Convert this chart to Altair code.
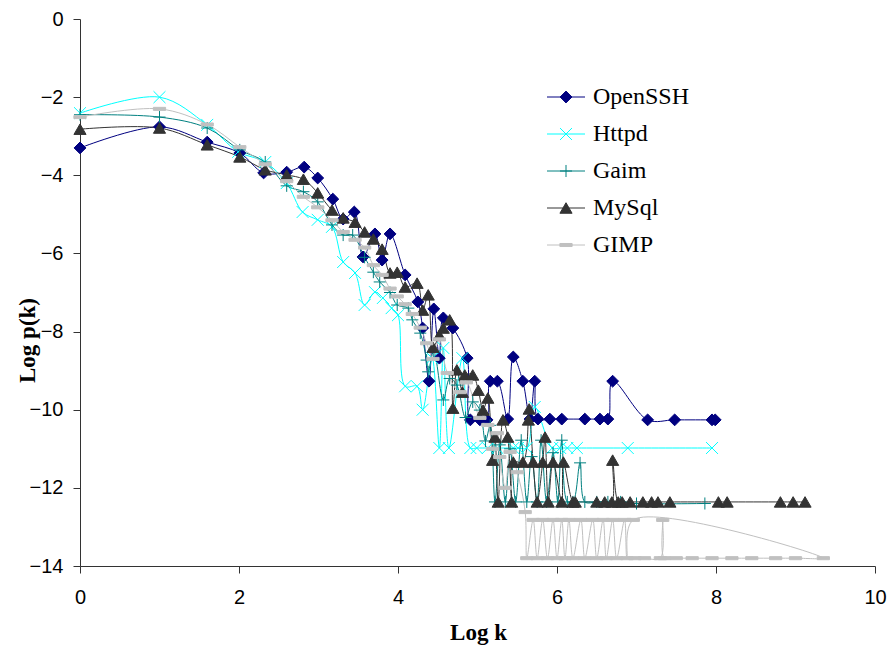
import altair as alt
import pandas as pd

series_names = ["OpenSSH", "Httpd", "Gaim", "MySql", "GIMP"]
series_colors = ["#000080", "#00FFFF", "#008080", "#333333", "#C0C0C0"]
series_shapes = [
    "diamond",
    "M-1,-1L1,1M-1,1L1,-1",
    "M-1,0L1,0M0,-1L0,1",
    "triangle-up",
    "M-1,-0.25L1,-0.25L1,0.25L-1,0.25Z",
]
series_sizes = [140, 150, 110, 130, 40]

openssh_x = [0, 1.0, 1.6, 2.01, 2.31, 2.6, 2.82, 2.99, 3.18, 3.31, 3.45, 3.56, 3.71, 3.80, 3.90,
             4.09, 4.25, 4.31, 4.39, 4.45, 4.52, 4.57, 4.69, 4.87, 4.91, 5.03, 5.12, 5.16, 5.25,
             5.38, 5.45, 5.57, 5.66, 5.72, 5.76, 5.91, 6.06, 6.35, 6.54, 6.64, 6.70, 7.14, 7.48, 7.95, 7.99]
openssh_y = [-3.30, -2.76, -3.15, -3.43, -3.94, -3.92, -3.79, -4.07, -4.61, -5.12, -4.94, -6.09, -5.50, -6.17, -5.50,
             -6.55, -7.24, -7.91, -9.27, -7.42, -8.68, -7.65, -7.91, -8.68, -10.26, -10.26, -10.26, -9.27, -9.27,
             -10.24, -8.65, -9.27, -10.24, -9.27, -10.24, -10.24, -10.24, -10.24, -10.24, -10.24, -9.27, -10.26, -10.26, -10.26, -10.26]

httpd_x = [0, 1.0, 1.6, 1.99, 2.33, 2.6, 2.8, 2.99, 3.17, 3.31, 3.46, 3.58, 3.71, 3.81, 3.92, 4.0,
           4.09, 4.24, 4.31, 4.43, 4.52, 4.57, 4.64, 4.81, 4.91, 4.99, 5.13, 5.25, 5.45, 5.51, 5.62,
           5.72, 5.94, 6.04, 6.13, 6.25, 6.89, 7.95]
httpd_y = [-2.41, -2.0, -2.71, -3.40, -3.66, -4.20, -4.94, -5.14, -5.32, -6.22, -6.50, -7.32, -6.99, -7.14, -7.40, -7.58,
           -9.40, -9.40, -10.0, -8.68, -10.98, -8.42, -10.98, -8.68, -10.98, -10.98, -10.98, -10.98, -10.98, -10.98, -10.98,
           -9.93, -10.98, -10.98, -10.98, -10.98, -10.98, -10.98]

gaim_x = [0, 1.0, 1.6, 2.01, 2.33, 2.6, 2.81, 2.99, 3.17, 3.31, 3.43, 3.58, 3.69, 3.77, 3.90, 3.99,
          4.13, 4.18, 4.28, 4.36, 4.38, 4.45, 4.57, 4.65, 4.74, 4.85, 4.94, 5.03, 5.10, 5.16, 5.22,
          5.28, 5.35, 5.41, 5.48, 5.55, 5.62, 5.68, 5.75, 5.80, 5.87, 5.95, 6.01, 6.06, 6.13, 6.20,
          6.29, 6.35, 6.50, 6.64, 6.80, 7.00, 7.86]
gaim_y = [-2.45, -2.51, -2.79, -3.35, -3.66, -4.27, -4.42, -4.68, -5.27, -5.53, -5.53, -6.10, -6.48, -6.73, -7.00, -7.32,
          -7.40, -7.70, -8.04, -8.73, -9.03, -8.50, -9.75, -9.20, -9.37, -10.20, -9.80, -10.01, -10.80, -10.40, -12.36,
          -10.90, -12.36, -11.00, -12.36, -10.78, -12.36, -11.20, -12.36, -10.78, -12.36, -11.10, -12.36, -10.78, -12.36, -12.36,
          -11.36, -12.36, -12.36, -12.36, -12.36, -12.40, -12.40]

mysql_x = [0, 1.0, 1.6, 2.01, 2.33, 2.6, 2.81, 2.99, 3.17, 3.31, 3.46, 3.58, 3.69, 3.80, 3.90, 3.99,
           4.09, 4.24, 4.31, 4.38, 4.44, 4.52, 4.57, 4.65, 4.69, 4.74, 4.81, 4.84, 4.94, 5.01, 5.07,
           5.13, 5.19, 5.22, 5.26, 5.32, 5.38, 5.43, 5.45, 5.57, 5.64, 5.65, 5.70, 5.75, 5.82, 5.85,
           5.89, 5.95, 6.06, 6.08, 6.20, 6.23, 6.50, 6.60, 6.69, 6.70, 6.77, 6.82, 6.92, 7.08, 7.19,
           7.27, 7.42, 8.03, 8.14, 8.81, 8.97, 9.12]
mysql_y = [-2.82, -2.79, -3.22, -3.53, -3.86, -3.99, -4.10, -4.45, -4.89, -5.09, -5.20, -5.45, -5.63, -5.89, -6.50, -6.48,
           -6.86, -6.76, -7.45, -7.06, -8.40, -8.09, -7.91, -7.70, -9.96, -8.98, -9.55, -9.11, -9.11, -9.50, -10.01,
           -9.70, -11.29, -10.70, -12.36, -10.26, -10.70, -12.36, -11.34, -11.34, -10.26, -9.98, -11.34, -12.36, -11.34, -10.70,
           -12.36, -11.34, -12.36, -11.34, -12.36, -12.36, -12.36, -12.36, -12.36, -11.29, -12.36, -12.36, -12.36, -12.36, -12.36,
           -12.36, -12.36, -12.36, -12.36, -12.36, -12.36, -12.36]

gimp_x = [0, 1.0, 1.6, 2.01, 2.33, 2.6, 2.81, 2.99, 3.17, 3.31, 3.46, 3.58, 3.69, 3.80, 3.90, 3.99,
          4.09, 4.18, 4.28, 4.36, 4.44, 4.52, 4.62, 4.78, 4.86, 5.03, 5.13, 5.19, 5.25, 5.28, 5.35,
          5.41, 5.50, 5.60, 5.62, 5.70, 5.75, 5.82, 5.88, 5.95, 6.00, 6.06, 6.10, 6.15, 6.20, 6.30,
          6.35, 6.45, 6.50, 6.58, 6.62, 6.70, 6.75, 6.85, 6.88, 6.96, 9.35, 9.00, 8.75, 8.45, 8.20,
          7.95, 7.70, 7.50, 7.35, 7.33, 7.30, 7.10, 6.98]
gimp_y = [-2.51, -2.30, -2.70, -3.28, -3.72, -4.15, -4.55, -4.82, -5.15, -5.45, -5.65, -5.85, -6.30, -6.55, -6.90, -7.10,
          -7.30, -7.55, -7.90, -8.30, -8.70, -8.20, -9.06, -9.55, -9.30, -10.21, -10.39, -11.00, -10.60, -11.21, -12.00,
          -11.08, -11.60, -12.62, -13.80, -12.82, -13.80, -12.82, -13.80, -12.82, -13.80, -12.82, -13.80, -12.82, -13.80, -12.82,
          -13.80, -12.82, -13.80, -12.82, -13.80, -12.82, -13.80, -12.82, -13.80, -12.82, -13.80, -13.80, -13.80, -13.80, -13.80,
          -13.80, -13.80, -13.80, -13.80, -12.82, -13.80, -13.80, -13.80]

x_ticks = [0, 2, 4, 6, 8, 10]
y_ticks = [-14, -12, -10, -8, -6, -4, -2, 0]

rows = []
for name, xs, ys in [("OpenSSH", openssh_x, openssh_y), ("Httpd", httpd_x, httpd_y),
                     ("Gaim", gaim_x, gaim_y), ("MySql", mysql_x, mysql_y), ("GIMP", gimp_x, gimp_y)]:
    for i, (a, b) in enumerate(zip(xs, ys)):
        rows.append({"series": name, "idx": i, "x": a, "y": b})
df = pd.DataFrame(rows)

x_scale = alt.Scale(domain=[0, 10], nice=False, zero=False)
y_scale = alt.Scale(domain=[-14, 0], nice=False, zero=False)
color_scale = alt.Scale(domain=series_names, range=series_colors)
shape_scale = alt.Scale(domain=series_names, range=series_shapes)
size_scale = alt.Scale(domain=series_names, range=series_sizes)

x_axis = alt.Axis(values=x_ticks, title="Log k", grid=False, labelFont="Liberation Sans", labelFontSize=20,
                  labelColor="black", labelPadding=14, labelFlush=False, tickSize=7, tickColor="#333333",
                  domainColor="#333333",
                  titleFont="Liberation Serif", titleFontSize=23, titleFontWeight="bold", titleColor="black",
                  titleX=398, titleY=66, titleAlign="center", titleBaseline="middle", titleAngle=0)
y_axis = alt.Axis(values=y_ticks, title="Log p(k)", grid=False, labelFont="Liberation Sans", labelFontSize=20,
                  labelColor="black", labelPadding=10, labelFlush=False, tickSize=7, tickColor="#333333",
                  domainColor="#333333",
                  titleFont="Liberation Serif", titleFontSize=23, titleFontWeight="bold", titleColor="black",
                  titleX=-53, titleY=321, titleAlign="center", titleBaseline="middle", titleAngle=270)

X = alt.X("x:Q", scale=x_scale, axis=x_axis)
Y = alt.Y("y:Q", scale=y_scale, axis=y_axis)

line_layers = []
for name, color in zip(series_names, series_colors):
    line_layers.append(
        alt.Chart(df).transform_filter(alt.datum.series == name)
        .mark_line(interpolate="catmull-rom", strokeWidth=1, color=color)
        .encode(x=X, y=Y, order=alt.Order("idx:Q"))
    )

points = alt.Chart(df).mark_point(filled=True, opacity=1, strokeWidth=1).encode(
    x=X, y=Y,
    shape=alt.Shape("series:N", scale=shape_scale, legend=None),
    fill=alt.Fill("series:N", scale=color_scale, legend=None),
    stroke=alt.Stroke("series:N", scale=color_scale, legend=None),
    size=alt.Size("series:O", scale=size_scale, legend=None),
)

main = alt.layer(*line_layers, points)

legend_df = pd.DataFrame({"series": series_names})
LY = alt.Y("series:N", scale=alt.Scale(type="point", domain=series_names, range=[78, 226], padding=0), axis=None)

leg_rule = alt.Chart(legend_df).mark_rule(strokeWidth=1).encode(
    x=alt.value(467), x2=alt.value(505), y=LY,
    color=alt.Color("series:N", scale=color_scale, legend=None),
)
leg_point = alt.Chart(legend_df).mark_point(filled=True, opacity=1, strokeWidth=1).encode(
    x=alt.value(486), y=LY,
    shape=alt.Shape("series:N", scale=shape_scale, legend=None),
    fill=alt.Fill("series:N", scale=color_scale, legend=None),
    stroke=alt.Stroke("series:N", scale=color_scale, legend=None),
    size=alt.Size("series:O", scale=size_scale, legend=None),
)
leg_text = alt.Chart(legend_df).mark_text(align="left", baseline="middle", font="Liberation Serif",
                                          fontSize=24, color="black").encode(
    x=alt.value(513), y=LY, text="series:N",
)
legend = alt.layer(leg_rule, leg_point, leg_text)

chart = alt.layer(main, legend).resolve_scale(y="independent").properties(
    width=795, height=547,
    padding={"left": 80, "top": 19, "right": 16, "bottom": 88},
    autosize=alt.AutoSizeParams(type="none"),
    background="white",
).configure_view(stroke=None)

chart.save("out.html", embed_options={"renderer": "svg", "actions": False})
